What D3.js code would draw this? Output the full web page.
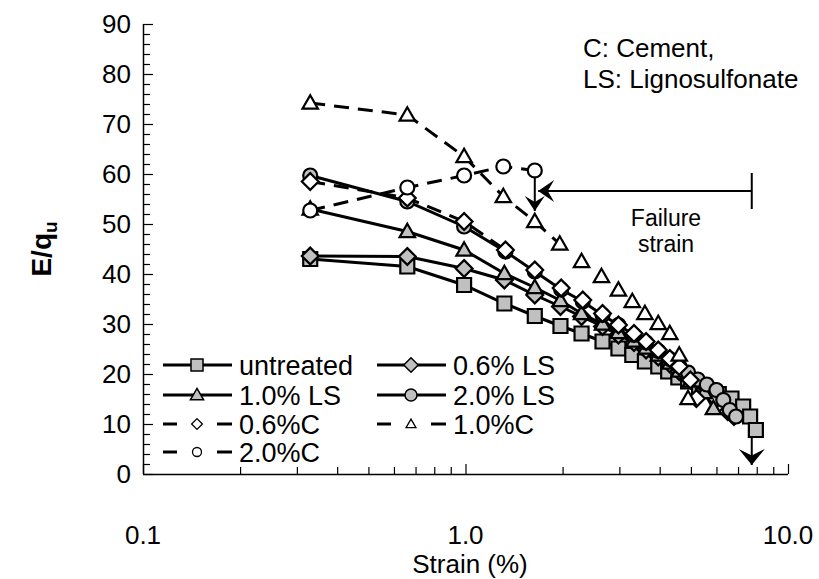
<!DOCTYPE html>
<html>
<head>
<meta charset="utf-8">
<script src="https://cdn.jsdelivr.net/npm/d3@7"></script>
<style>
body { margin: 0; background: #fff; }
text { font-family: Arial, "Liberation Sans", sans-serif; fill: #000; }
</style>
</head>
<body>
<svg id="chart"></svg>
<script>
// values (strain %, E/qu)
var untreatedX = [0.33, 0.66, 0.99, 1.32, 1.64, 1.97, 2.29, 2.66, 2.98, 3.29, 3.6, 3.96, 4.25, 4.57, 4.9, 5.3, 5.7, 6.1, 6.68, 7.26, 7.63, 7.95];
var untreatedY = [43.0, 41.5, 37.8, 34.1, 31.6, 29.6, 28.1, 26.5, 25.1, 23.8, 22.5, 21.5, 20.5, 19.3, 18.5, 17.6, 16.8, 16.0, 15.1, 13.5, 11.5, 8.8];

var ls06X = [0.33, 0.66, 0.99, 1.32, 1.64, 1.97, 2.29, 2.66, 2.98, 3.33, 3.63, 3.96, 4.3, 4.6, 4.98, 5.5, 6.0, 6.5, 6.8];
var ls06Y = [43.6, 43.5, 41.1, 38.8, 35.8, 33.5, 31.5, 29.5, 27.8, 26.3, 24.8, 23.4, 22.0, 20.5, 19.0, 17.0, 15.0, 12.5, 11.5];

var ls10X = [0.33, 0.66, 0.99, 1.32, 1.64, 1.97, 2.29, 2.66, 2.98, 3.33, 3.63, 3.96, 4.3, 4.6, 4.98, 5.5, 5.87];
var ls10Y = [53.0, 48.5, 44.8, 40.1, 37.3, 34.7, 32.1, 30.0, 28.3, 26.6, 25.2, 23.8, 22.2, 20.6, 18.6, 16.3, 13.1];

var ls20X = [0.33, 0.66, 0.99, 1.33, 1.64, 1.98, 2.31, 2.66, 2.98, 3.33, 3.63, 3.96, 4.3, 4.6, 4.9, 5.25, 5.6, 6.0, 6.3, 6.6, 6.9];
var ls20Y = [59.7, 54.5, 49.5, 44.5, 40.5, 36.9, 34.5, 31.8, 29.8, 27.8, 26.3, 24.6, 23.0, 21.6, 20.3, 18.9, 17.9, 16.8, 14.8, 12.8, 11.5];

var c06X = [0.33, 0.66, 0.99, 1.33, 1.64, 1.98, 2.31, 2.66, 2.98, 3.33, 3.63, 3.96, 4.3, 4.6, 4.98, 5.2];
var c06Y = [58.5, 55.2, 50.5, 44.8, 40.8, 37.2, 34.8, 32.1, 29.8, 28.1, 26.5, 24.8, 23.1, 21.5, 18.8, 15.1];

var c10X = [0.33, 0.66, 0.99, 1.31, 1.64, 1.96, 2.29, 2.64, 2.98, 3.29, 3.6, 3.96, 4.3, 4.6, 4.9];
var c10Y = [74.2, 71.8, 63.5, 55.5, 50.5, 46.0, 42.5, 39.5, 36.8, 34.5, 32.1, 30.1, 28.1, 23.8, 15.1];

var c20X = [0.33, 0.66, 0.99, 1.31, 1.64];
var c20Y = [52.7, 57.3, 59.7, 61.5, 60.7];

var seriesNames = ["untreated", "0.6% LS", "1.0% LS", "2.0% LS", "0.6%C", "1.0%C", "2.0%C"];

var yTicks = [0, 10, 20, 30, 40, 50, 60, 70, 80, 90];
var xTicks = [0.1, 1, 10];

var width = 819;
var height = 579;

var svg = d3.select("svg#chart")
    .attr("width", width)
    .attr("height", height);

var x = d3.scaleLog()
    .domain([0.1, 10])
    .range([143, 788]);

var y = d3.scaleLinear()
    .domain([0, 90])
    .range([474, 24]);

var grey = "#c0c0c0";

// series setup: marker, fill, dashed?, how many points the line runs through
var series = [
    { name: seriesNames[0], xs: untreatedX, ys: untreatedY, shape: "square",   fill: grey,   dash: false },
    { name: seriesNames[1], xs: ls06X,      ys: ls06Y,      shape: "diamond",  fill: grey,   dash: false },
    { name: seriesNames[2], xs: ls10X,      ys: ls10Y,      shape: "triangle", fill: grey,   dash: false },
    { name: seriesNames[3], xs: ls20X,      ys: ls20Y,      shape: "circle",   fill: grey,   dash: false },
    { name: seriesNames[4], xs: c06X,       ys: c06Y,       shape: "diamond",  fill: "#fff", dash: true, lineN: 4 },
    { name: seriesNames[5], xs: c10X,       ys: c10Y,       shape: "triangle", fill: "#fff", dash: true, lineN: 6 },
    { name: seriesNames[6], xs: c20X,       ys: c20Y,       shape: "circle",   fill: "#fff", dash: true, lineN: 5 }
];

function marker(shape, s) {
    var h = s / 2;
    if (shape == "square") return "M" + (-h) + "," + (-h) + "h" + s + "v" + s + "h" + (-s) + "Z";
    if (shape == "diamond") return "M0," + (-h * 1.2) + "L" + (h * 1.2) + ",0L0," + (h * 1.2) + "L" + (-h * 1.2) + ",0Z";
    if (shape == "triangle") return "M0," + (-h * 1.1) + "L" + (h * 1.1) + "," + (h * 0.8) + "L" + (-h * 1.1) + "," + (h * 0.8) + "Z";
    return "M" + (-h) + ",0A" + h + "," + h + " 0 1,0 " + h + ",0A" + h + "," + h + " 0 1,0 " + (-h) + ",0Z";
}

// axes
var yMinor = d3.range(0, 91, 2);
var yAxis = d3.axisLeft(y).tickValues(yMinor).tickSize(-7).tickFormat("");
var gy = svg.append("g").attr("transform", "translate(143,0)").call(yAxis);
gy.selectAll(".tick line").filter(function(d) { return d % 10 == 0; }).attr("x2", 10);

var xMinor = [];
[0.1, 1].forEach(function(b) { d3.range(1, 10).forEach(function(k) { xMinor.push(b * k); }); });
xMinor.push(10);
var xAxis = d3.axisBottom(x).tickValues(xMinor).tickSize(-7).tickFormat("");
var gx = svg.append("g").attr("transform", "translate(0,474)").call(xAxis);
gx.selectAll(".tick line").filter(function(d) { return xTicks.indexOf(d) >= 0; }).attr("y2", -10);

svg.selectAll(".domain").attr("stroke", "#000").attr("stroke-width", 1.5);
svg.selectAll(".tick line").attr("stroke", "#000").attr("stroke-width", 1.2);
// no outer tick hook on domain
gy.select(".domain").attr("d", "M0.5,24V474");
gx.select(".domain").attr("d", "M143,0.5H788");

svg.selectAll("text.ylab")
    .data(yTicks)
    .enter()
    .append("text")
    .attr("class", "ylab")
    .attr("x", 131)
    .attr("y", function(d) { return y(d) + 9; })
    .attr("text-anchor", "end")
    .attr("font-size", 26)
    .text(function(d) { return d; });

svg.selectAll("text.xlab")
    .data(xTicks)
    .enter()
    .append("text")
    .attr("class", "xlab")
    .attr("x", function(d) { return x(d); })
    .attr("y", 544)
    .attr("text-anchor", "middle")
    .attr("font-size", 26)
    .text(function(d) { return d3.format(".1f")(d); });

svg.append("text")
    .attr("x", 470).attr("y", 573)
    .attr("text-anchor", "middle")
    .attr("font-size", 26)
    .text("Strain (%)");

var yt = svg.append("text")
    .attr("transform", "translate(51,249) rotate(-90)")
    .attr("text-anchor", "middle")
    .attr("font-size", 28)
    .attr("font-weight", "bold");
yt.append("tspan").text("E/q");
yt.append("tspan").attr("font-size", 19).attr("dy", 6).text("u");

// lines + markers
var line = d3.line()
    .x(function(d) { return x(d[0]); })
    .y(function(d) { return y(d[1]); });

var plot = svg.append("g");

series.forEach(function(s) {
    var pts = s.xs.map(function(v, i) { return [v, s.ys[i]]; });
    var n = s.lineN || pts.length;
    plot.append("path")
        .attr("d", line(pts.slice(0, n)))
        .attr("fill", "none")
        .attr("stroke", "#000")
        .attr("stroke-width", 3)
        .attr("stroke-dasharray", s.dash ? "15,9" : null);

    plot.selectAll(null)
        .data(pts)
        .enter()
        .append("path")
        .attr("transform", function(d) { return "translate(" + x(d[0]) + "," + y(d[1]) + ")"; })
        .attr("d", marker(s.shape, 14))
        .attr("fill", s.fill)
        .attr("stroke", "#000")
        .attr("stroke-width", 2.2);
});

// annotations
function arrowHead(px, py, angle, w, l) {
    var g = svg.append("path")
        .attr("transform", "translate(" + px + "," + py + ") rotate(" + angle + ")")
        .attr("d", "M0,0L" + l + "," + (-w) + "L" + (l * 0.6) + ",0L" + l + "," + w + "Z")
        .attr("fill", "#000");
    return g;
}

var failX = 7.72;
var hArrowY = 56.6;
var hArrowX = 1.68;

svg.append("line")
    .attr("x1", x(hArrowX)).attr("x2", x(failX))
    .attr("y1", y(hArrowY)).attr("y2", y(hArrowY))
    .attr("stroke", "#000").attr("stroke-width", 2);
svg.append("line")
    .attr("x1", x(failX)).attr("x2", x(failX))
    .attr("y1", y(hArrowY) - 18).attr("y2", y(hArrowY) + 18)
    .attr("stroke", "#000").attr("stroke-width", 2);
arrowHead(x(hArrowX), y(hArrowY), 0, 11, 16);

// 2.0%C failure arrow
svg.append("line")
    .attr("x1", x(1.64)).attr("x2", x(1.64))
    .attr("y1", y(60.7) + 6).attr("y2", y(52.6))
    .attr("stroke", "#000").attr("stroke-width", 2);
arrowHead(x(1.64), y(52.6), -90, 10, 15);

// untreated failure arrow
svg.append("line")
    .attr("x1", x(failX)).attr("x2", x(failX))
    .attr("y1", y(8.8) + 6).attr("y2", y(1.8))
    .attr("stroke", "#000").attr("stroke-width", 2);
arrowHead(x(failX), y(1.8), -90, 13, 16);

svg.append("text").attr("x", 666).attr("y", 226).attr("text-anchor", "middle").attr("font-size", 23).text("Failure");
svg.append("text").attr("x", 666).attr("y", 252).attr("text-anchor", "middle").attr("font-size", 23).text("strain");

svg.append("text").attr("x", 583).attr("y", 57).attr("font-size", 26).text("C: Cement,");
svg.append("text").attr("x", 583).attr("y", 88).attr("font-size", 26).text("LS: Lignosulfonate");

// legend
var legRows = [365, 395, 424, 452];
var legCols = [163, 377];
var legend = svg.append("g");

series.forEach(function(s, i) {
    var cx = legCols[i % 2];
    var cy = legRows[Math.floor(i / 2)];
    if (s.dash) {
        legend.append("line").attr("x1", cx).attr("x2", cx + 14).attr("y1", cy).attr("y2", cy)
            .attr("stroke", "#000").attr("stroke-width", 3);
        legend.append("line").attr("x1", cx + 54).attr("x2", cx + 69).attr("y1", cy).attr("y2", cy)
            .attr("stroke", "#000").attr("stroke-width", 3);
        legend.append("path").attr("transform", "translate(" + (cx + 34) + "," + cy + ")")
            .attr("d", marker(s.shape, 9))
            .attr("fill", "#fff").attr("stroke", "#000").attr("stroke-width", 1.3);
    } else {
        legend.append("line").attr("x1", cx).attr("x2", cx + 69).attr("y1", cy).attr("y2", cy)
            .attr("stroke", "#000").attr("stroke-width", 3);
        legend.append("path").attr("transform", "translate(" + (cx + 34) + "," + cy + ")")
            .attr("d", marker(s.shape, 12))
            .attr("fill", s.fill).attr("stroke", "#000").attr("stroke-width", 1.5);
    }
    legend.append("text")
        .attr("x", cx + 76).attr("y", cy + 10)
        .attr("font-size", 27)
        .text(s.name);
});
</script>
</body>
</html>
